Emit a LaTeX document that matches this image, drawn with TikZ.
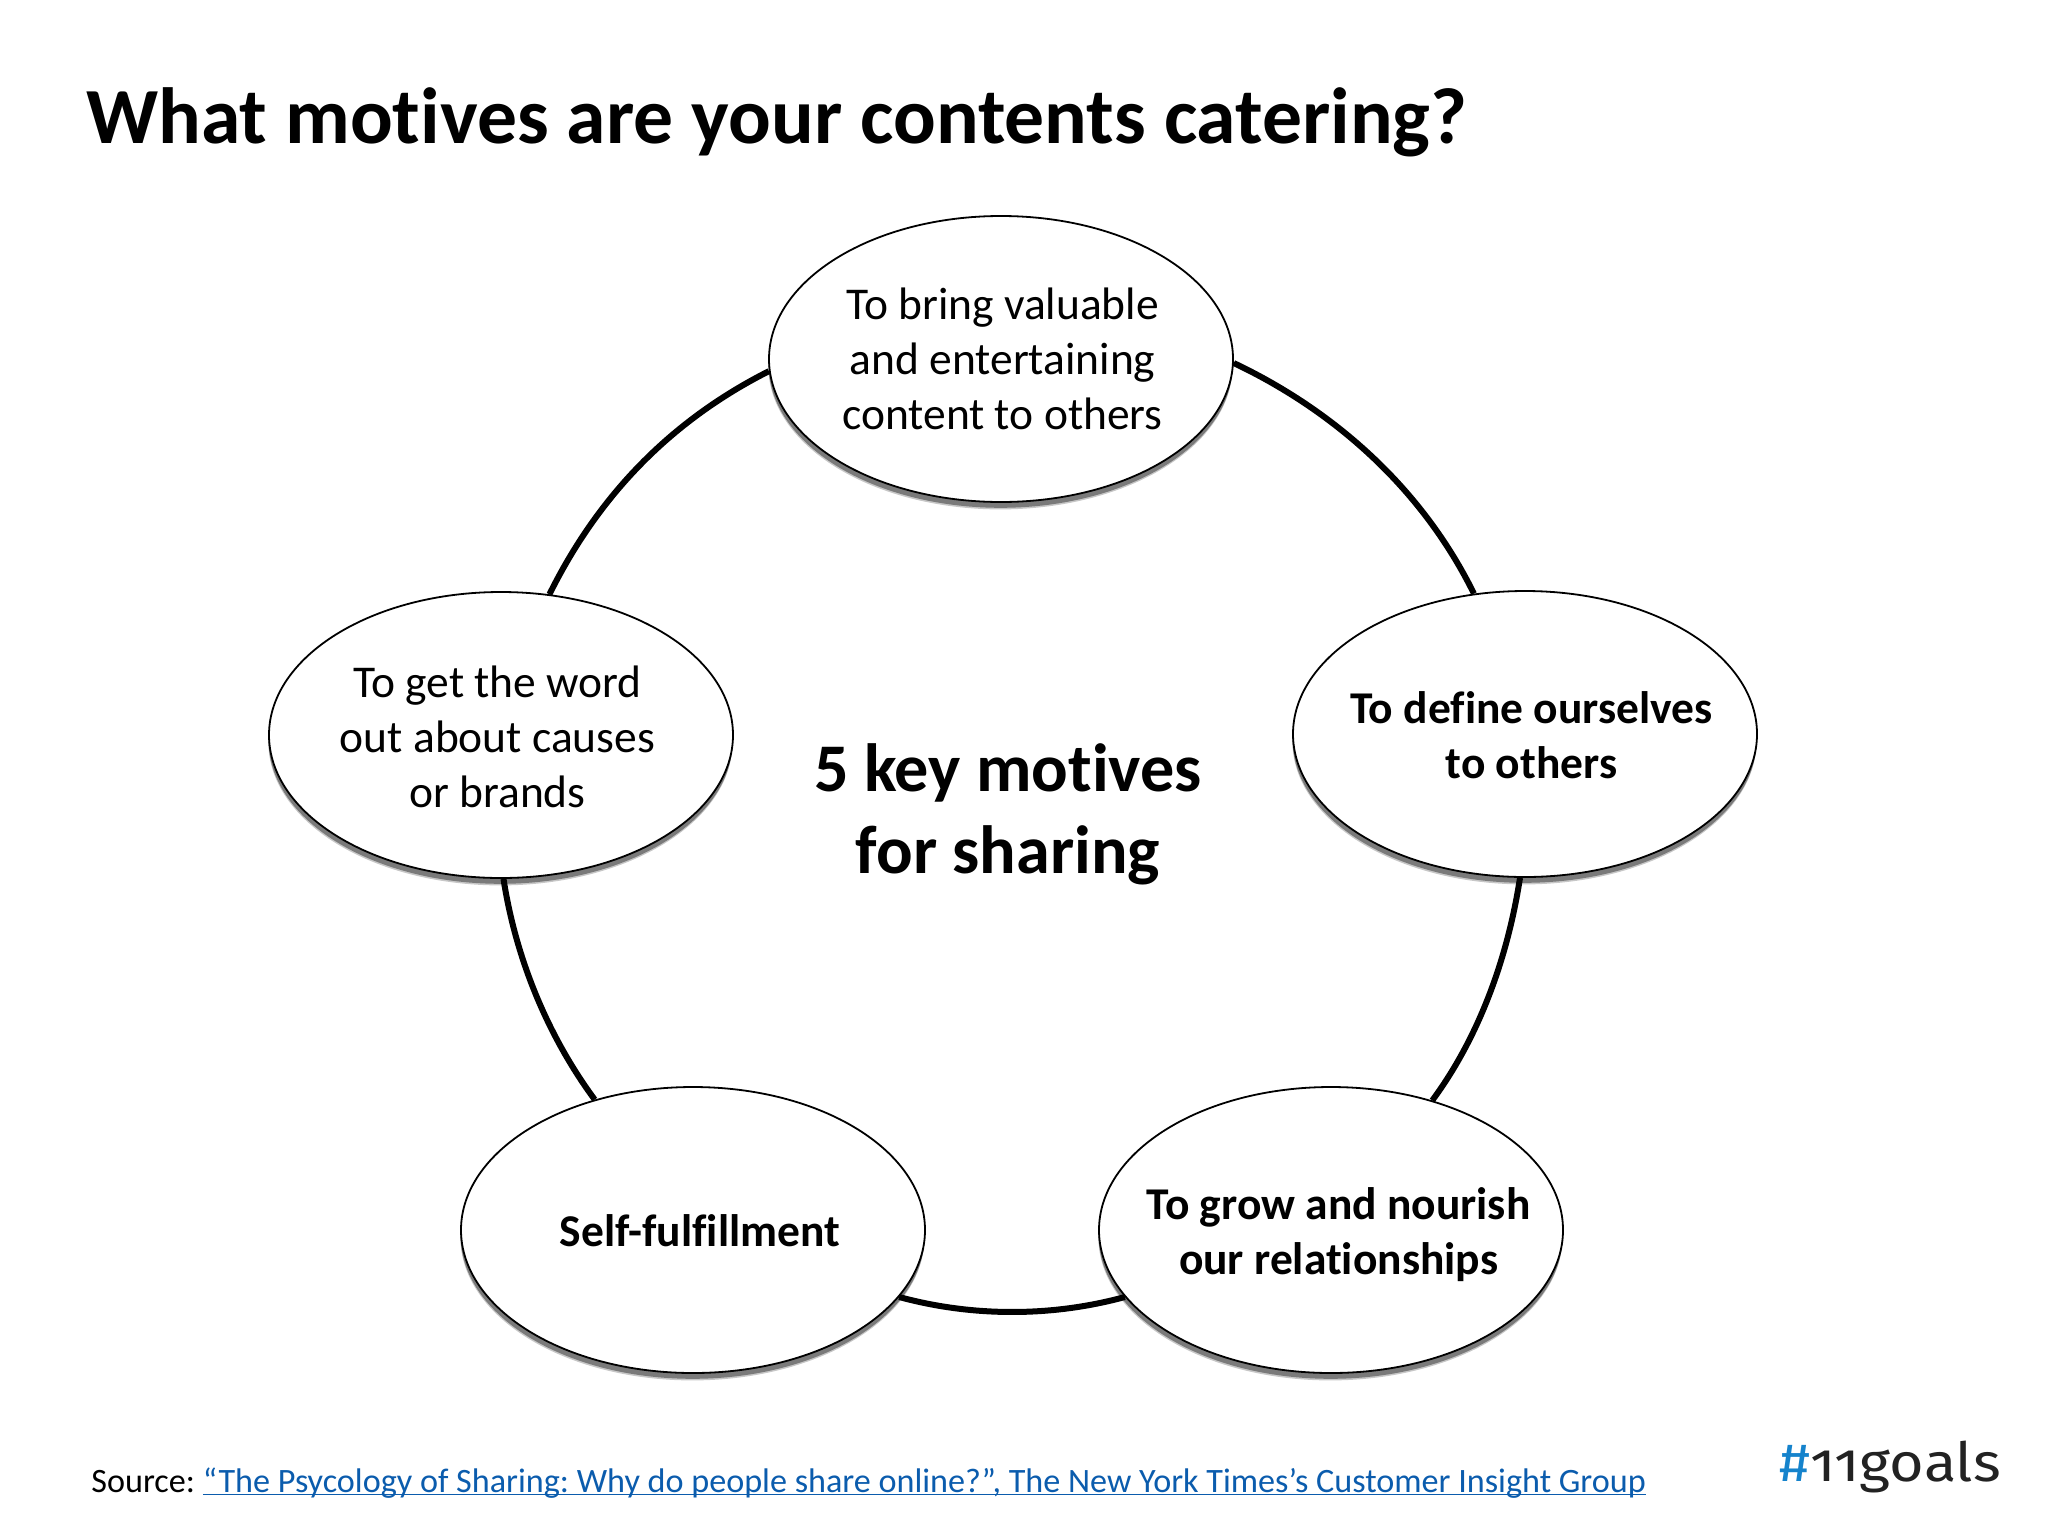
\documentclass[tikz,border=0pt]{standalone}
\usepackage{fontspec}
\setmainfont[Ligatures=NoCommon]{Carlito}
\newfontfamily\logofont[Numbers=OldStyle,FakeStretch=1.1]{Fira Sans}
\usetikzlibrary{shapes.geometric,shadows}
\definecolor{linkblue}{HTML}{0B5CAD}
\definecolor{hashblue}{HTML}{1583CC}
\definecolor{logoink}{HTML}{222222}
\frenchspacing
\newsavebox{\linesbox}
% #1 = horizontal shift x 2, #2 = vertical shift x 2 (downwards), #3 = the lines
\newcommand{\lines}[3]{\begingroup\setlength{\tabcolsep}{0pt}%
  \sbox{\linesbox}{\begin{tabular}{c}#3\end{tabular}}%
  \makebox[0pt]{\hspace*{#1}\usebox{\linesbox}\rule{0pt}{\dimexpr\ht\linesbox+#2\relax}}\endgroup}
\tikzset{
  motive/.style={ellipse,draw=black,line width=0.9pt,fill=white,inner sep=0pt,
    minimum width=232pt,minimum height=143pt,
    font=\fontsize{22.75}{27.5}\selectfont,
    general shadow={fill=black!22,shadow xshift=-0.3pt,shadow yshift=-3.7pt},
    general shadow={fill=black!52,shadow xshift=-0.2pt,shadow yshift=-2.9pt}},
  boldmotive/.style={motive,font=\fontsize{22.75}{27.5}\selectfont\bfseries},
  link/.style={line width=3pt,black},
}
\begin{document}
\begin{tikzpicture}[x=0.5pt,y=-0.5pt]
\useasboundingbox (0,0) rectangle (2048,1536);
\node[anchor=base west,inner sep=0pt,font=\fontsize{39.8}{46}\selectfont\bfseries] (title) at (86,143) {What motives are your contents catering?};
\node[motive] (top) at (1001,359) {\lines{1.5pt}{4pt}{To bring valuable\\and entertaining\\content to others}};
\node[boldmotive] (right) at (1525,734) {\lines{6.5pt}{6pt}{\bfseries To define ourselves\\\bfseries to others}};
\node[boldmotive] (br) at (1331,1230) {\lines{7.5pt}{6pt}{\bfseries To grow and nourish\\\bfseries our relationships}};
\node[boldmotive] (bl) at (693,1230) {\lines{7pt}{5pt}{\bfseries Self-fulfillment}};
\node[motive] (left) at (501,735) {\lines{-3.5pt}{6pt}{To get the word\\out about causes\\or brands}};
\node[inner sep=0pt,font=\fontsize{34.1}{41}\selectfont\bfseries] (centre) at (1008,812) {\lines{0pt}{4pt}{5 key motives\\for sharing}};
\draw[link] (top.-1) .. controls +(104.5,49.6) and +(-50.1,-101.8) .. (right.110);
\draw[link] (right.268.5) .. controls +(-12.1,78.4) and +(47.6,-64.4) .. (br.52.5);
\draw[link] (br.198.4) .. controls +(-73.2,20) and +(73.4,20) .. (bl.-18.4);
\draw[link] (bl.127.5) .. controls +(-47.6,-64.4) and +(12.1,78.4) .. (left.-89);
\draw[link] (left.71) .. controls +(48.3,-97.6) and +(-99.1,50) .. (top.183);
\node[anchor=base west,inner sep=0pt,font=\fontsize{17.08}{20}\selectfont] (source) at (91,1492) {Source: \textcolor{linkblue}{\underline{\smash{“The Psycology of Sharing: Why do people share online?”, The New York Times’s Customer Insight Group}}}};
\node[anchor=base west,inner sep=0pt,font=\logofont\fontsize{27}{32}\selectfont,text=logoink] (logo) at (1779,1481) {\textcolor{hashblue}{\#}11goals};
\end{tikzpicture}
\end{document}
